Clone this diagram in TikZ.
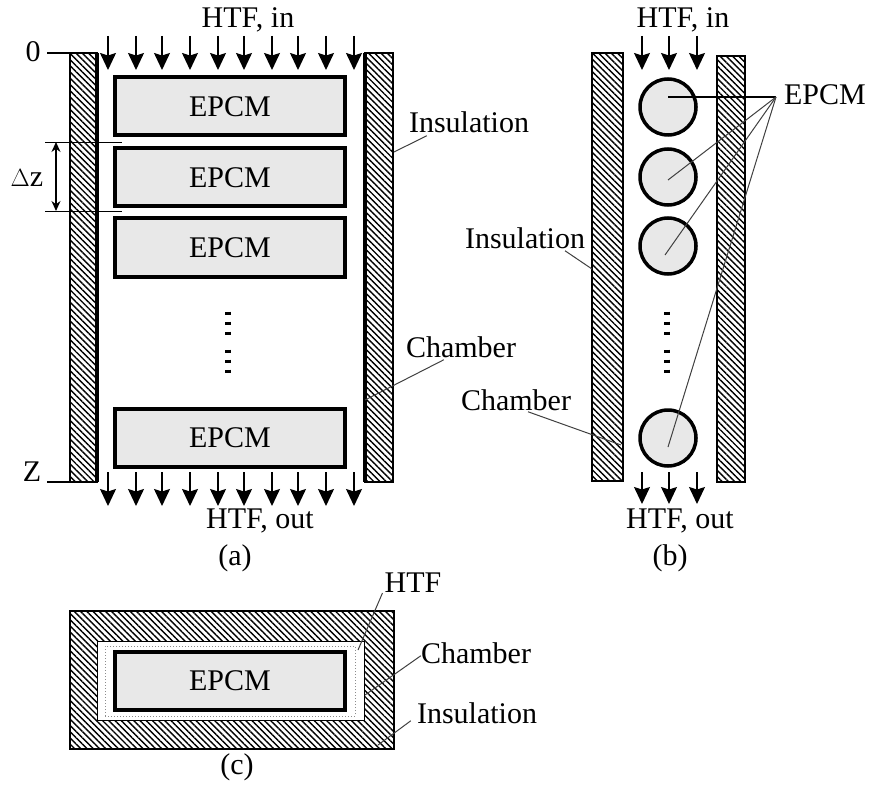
\documentclass[tikz,border=0pt]{standalone}
\usepackage{fontspec}
\setmainfont{Liberation Serif}
\usetikzlibrary{positioning}
\usetikzlibrary{arrows.meta}
\usetikzlibrary{patterns.meta}

\begin{document}
\begin{tikzpicture}[x=1pt,y=-1pt,
	font=\fontsize{30}{32}\selectfont,
	wall/.style={rectangle, draw=black, line width=1.2pt, outer sep=0pt, inner sep=0pt, pattern={Lines[angle=-45,distance=4.4pt,line width=1.4pt]}},
	epcm/.style={rectangle, draw=black, fill=black!9, line width=4pt, outer sep=0pt, inner sep=0pt, minimum width=230pt, minimum height=58pt},
	bead/.style={circle, draw=black, fill=black!9, line width=3.5pt, outer sep=0pt, inner sep=0pt, minimum size=56pt},
	hole/.style={rectangle, draw=black, fill=white, line width=1pt, outer sep=0pt, inner sep=0pt},
	flow/.style={line width=1.3pt, -{Stealth[length=17pt,width=16pt,inset=2.5pt]}},
	dots/.style={line width=5.5pt, dash pattern=on 3pt off 7pt},
	leader/.style={line width=1pt, draw=black!75},
	lbl/.style={inner sep=0pt}]
	\useasboundingbox (0,0) rectangle (869,786);

	% (a)
	\node[wall, minimum width=27pt, minimum height=429pt] (wallAL) at (83.5,267.5) {};
	\node[wall, minimum width=28pt, minimum height=429pt] (wallAR) at (379,267.5) {};
	\draw[line width=4pt] (wallAL.north east) -- (wallAL.south east);
	\draw[line width=4pt] (wallAR.north west) -- (wallAR.south west);
	\node[epcm] (boxA) at (230,106.5) {EPCM};
	\node[epcm] (boxB) [below = 13pt of boxA] {EPCM};
	\node[epcm] (boxC) [below = 12pt of boxB] {EPCM};
	\node[epcm] (boxD) at (230,438) {EPCM};
	\foreach \xpos in {108,136,162,190,218,244,272,298,326,354} {
		\coordinate (inA\xpos) at (\xpos,36);
		\coordinate (inB\xpos) at (\xpos,70);
		\coordinate (outA\xpos) at (\xpos,472);
		\coordinate (outB\xpos) at (\xpos,506);
		\draw[flow] (inA\xpos) -- (inB\xpos);
		\draw[flow] (outA\xpos) -- (outB\xpos);
	}
	\node[lbl] (htfinA) at (248,20) {HTF, in};
	\node[lbl] (htfoutA) at (260,521) {HTF, out};
	\node[lbl] (zero) at (33,52) {0};
	\node[lbl] (zed) at (32,472) {Z};
	\coordinate (zeroend) at (47,53);
	\coordinate (zedend) at (47,482);
	\draw[line width=1.2pt] (zeroend) -- (wallAL.north west);
	\draw[line width=1.2pt] (zedend) -- (wallAL.south west);
	\node[lbl] (dz) at (27,178) {$\Delta$z};
	\coordinate (tickAa) at (45,142);
	\coordinate (tickAb) at (122,142);
	\coordinate (tickBa) at (45,211);
	\coordinate (tickBb) at (122,211);
	\coordinate (dimA) at (56,142);
	\coordinate (dimB) at (56,211);
	\draw[line width=.8pt] (tickAa) -- (tickAb);
	\draw[line width=.8pt] (tickBa) -- (tickBb);
	\draw[line width=1.2pt, {Stealth[length=10pt,width=9pt]}-{Stealth[length=10pt,width=9pt]}] (dimA) -- (dimB);
	\coordinate (dotsAa) at (228,311.5);
	\coordinate (dotsAb) at (228,335);
	\coordinate (dotsAc) at (228,349.5);
	\coordinate (dotsAd) at (228,373);
	\draw[dots] (dotsAa) -- (dotsAb);
	\draw[dots] (dotsAc) -- (dotsAd);
	\node[lbl] (insA) at (469,122) {Insulation};
	\node[lbl] (chamA) at (461,347) {Chamber};
	\coordinate (insAfoot) at (394,152);
	\coordinate (chamAfoot) at (365,400);
	\draw[leader] (insA.south west) ++(18,3) -- (insAfoot);
	\draw[leader] (chamA.south west) ++(38,2) -- (chamAfoot);
	\node[lbl] (capA) at (235,558) {(a)};

	% (b)
	\node[wall, minimum width=31pt, minimum height=428pt] (wallBL) at (607.5,267) {};
	\node[wall, minimum width=28pt, minimum height=426pt] (wallBR) at (731,269) {};
	\draw[line width=2pt] (wallBL.north east) -- (wallBL.south east);
	\draw[line width=2pt] (wallBR.north west) -- (wallBR.south west);
	\node[bead] (beadA) at (668,107) {};
	\node[bead] (beadB) [below = 14pt of beadA] {};
	\node[bead] (beadC) [below = 13pt of beadB] {};
	\node[bead] (beadD) at (668,438) {};
	\foreach \xpos in {642,669,697} {
		\coordinate (inC\xpos) at (\xpos,36);
		\coordinate (inD\xpos) at (\xpos,70);
		\coordinate (outC\xpos) at (\xpos,472);
		\coordinate (outD\xpos) at (\xpos,504);
		\draw[flow] (inC\xpos) -- (inD\xpos);
		\draw[flow] (outC\xpos) -- (outD\xpos);
	}
	\node[lbl] (htfinB) at (683,20) {HTF, in};
	\node[lbl] (htfoutB) at (680,521) {HTF, out};
	\node[lbl] (epcmB) at (825,95) {EPCM};
	\coordinate (hub) at (776,97);
	\coordinate (footA) at (668,97);
	\coordinate (footB) at (668,180);
	\coordinate (footC) at (665,255);
	\coordinate (footD) at (668,447);
	\draw[line width=1.2pt] (hub) -- (footA);
	\draw[leader] (hub) -- (footB);
	\draw[leader] (hub) -- (footC);
	\draw[leader] (hub) -- (footD);
	\coordinate (dotsBa) at (667,311.5);
	\coordinate (dotsBb) at (667,335);
	\coordinate (dotsBc) at (667,349.5);
	\coordinate (dotsBd) at (667,373);
	\draw[dots] (dotsBa) -- (dotsBb);
	\draw[dots] (dotsBc) -- (dotsBd);
	\node[lbl] (insB) at (525,238) {Insulation};
	\node[lbl] (chamB) at (516,400) {Chamber};
	\coordinate (insBfoot) at (592,269);
	\coordinate (chamBfoot) at (621,445);
	\draw[leader] (insB.south) ++(40,2) -- (insBfoot);
	\draw[leader] (chamB.south) ++(12,1) -- (chamBfoot);
	\node[lbl] (capB) at (670,558) {(b)};

	% (c)
	\node[wall, minimum width=324pt, minimum height=138pt] (wallC) at (232,680) {};
	\node[hole, minimum width=267pt, minimum height=79pt] (holeC) at (231,680.5) {};
	\node[rectangle, draw=black!45, dotted, line width=1pt, outer sep=0pt, minimum width=250pt, minimum height=70pt] (htfC) at (230,681) {};
	\node[epcm] (boxE) at (230,681) {EPCM};
	\node[lbl] (htfClabel) at (413,583) {HTF};
	\node[lbl] (chamC) at (476,653) {Chamber};
	\node[lbl] (insC) at (477,713) {Insulation};
	\coordinate (htfCfoot) at (358,650);
	\coordinate (chamCfoot) at (365,695);
	\coordinate (insCfoot) at (378,745);
	\draw[leader] (htfClabel.south west) ++(-2,0) -- (htfCfoot);
	\draw[leader] (chamC.south west) ++(0,-8) -- (chamCfoot);
	\draw[leader] (insC.south west) ++(-6,-3) -- (insCfoot);
	\node[lbl] (capC) at (237,767) {(c)};
\end{tikzpicture}
\end{document}
